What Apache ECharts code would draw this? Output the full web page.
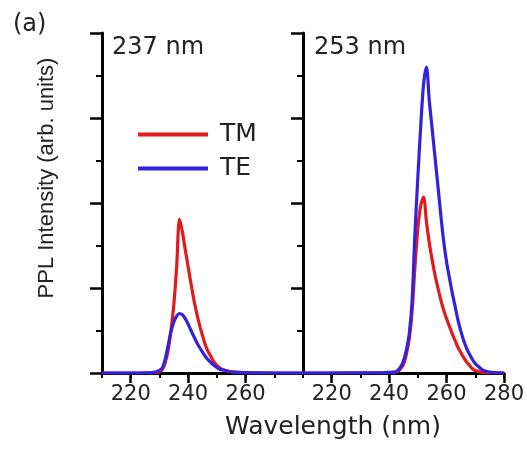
<!DOCTYPE html>
<html><head><meta charset="utf-8">
<script src="https://cdn.jsdelivr.net/npm/echarts@6/dist/echarts.min.js"></script>
<style>html,body{margin:0;padding:0;background:#fff}#c{width:527px;height:449px}</style>
</head><body><div id="c"></div>
<script>
// ---- data ----
const leftWl  = [210,220,226,228,229,230,231,232,233,234,235,236,237,238,239,240,241,242,243,244,245,246,247,248,249,250,251,252,254,256,260,270,280];
const leftTM  = [0,0,0,0,0.005,0.015,0.04,0.12,0.26,0.5,0.8,1.25,1.81,1.66,1.45,1.25,1.05,0.86,0.7,0.56,0.44,0.33,0.25,0.19,0.13,0.09,0.06,0.04,0.02,0.01,0,0,0];
const leftTE  = [0,0,0.003,0.008,0.015,0.03,0.06,0.16,0.32,0.48,0.6,0.67,0.70,0.685,0.64,0.575,0.5,0.43,0.36,0.3,0.245,0.195,0.155,0.12,0.09,0.065,0.045,0.035,0.02,0.01,0.004,0,0];
const rightWl = [210,220,230,238,240,242,243,244,245,246,247,248,249,250,251,252,253,254,255,256,257,258,259,260,261,262,263,264,265,266,267,268,269,270,271,272,273,275,278,280];
const rightTM = [0,0,0,0,0.003,0.01,0.02,0.05,0.1,0.22,0.4,0.72,1.25,1.7,1.97,2.07,1.78,1.53,1.33,1.15,1.0,0.86,0.74,0.64,0.55,0.46,0.38,0.3,0.24,0.18,0.13,0.09,0.05,0.03,0.02,0.01,0.005,0,0,0];
const rightTE = [0,0,0.002,0.005,0.008,0.01,0.03,0.07,0.14,0.27,0.46,0.85,1.65,2.3,2.9,3.4,3.6,3.2,2.87,2.53,2.2,1.86,1.55,1.31,1.12,0.94,0.78,0.62,0.49,0.38,0.29,0.22,0.16,0.11,0.08,0.05,0.03,0.01,0.003,0];
const seriesNames = ['TM','TE'];
const panelTitles = ['237 nm','253 nm'];
const leftTickLabels  = [220,240,260];
const rightTickLabels = [220,240,260,280];
const xName = 'Wavelength (nm)';
const yName = 'PPL Intensity (arb. units)';
const panelLetter = '(a)';

// ---- chart ----
const chart = echarts.init(document.getElementById('c'), null, {renderer:'canvas'});
const pair = (xs, ys) => xs.map((x,i)=>[x, ys[i]]);
const FONT = 'DejaVu Sans';
const TXT = '#222';
const RED = '#e31a1c', BLUE = '#3322dd';

function xMinor(gridIndex, labels){
  return {type:'value', gridIndex, min:210, max:280, interval:10, position:'bottom',
    axisLine:{show:true, onZero:false, lineStyle:{color:'#000', width:3}},
    axisTick:{show:true, length:5, lineStyle:{color:'#000', width:2}},
    axisLabel:{show:true, color:TXT, fontFamily:FONT, fontSize:21, margin:11,
      formatter: v => labels.indexOf(v) >= 0 ? String(v) : ''},
    splitLine:{show:false}};
}
function xMajor(gridIndex, ticks){
  return {type:'value', gridIndex, min:210, max:280, position:'bottom',
    axisLine:{show:false},
    axisTick:{show:true, length:10, customValues:ticks, lineStyle:{color:'#000', width:2.5}},
    axisLabel:{show:false}, splitLine:{show:false}};
}
function yAx(gridIndex){
  return {type:'value', gridIndex, min:0, max:4, interval:1,
    axisLine:{show:true, lineStyle:{color:'#000', width:3}},
    axisTick:{show:true, length:12, lineStyle:{color:'#000', width:2.5}},
    minorTick:{show:true, splitNumber:2, length:6, lineStyle:{color:'#000', width:2}},
    axisLabel:{show:false}, splitLine:{show:false}, minorSplitLine:{show:false}};
}
function line(name, color, xi, yi, data){
  return {type:'line', name, xAxisIndex:xi, yAxisIndex:yi, data, symbol:'none',
    smooth:0.3, lineStyle:{color, width:3.2}, itemStyle:{color}, z:name==='TE'?3:2};
}

chart.setOption({
  animation:false,
  backgroundColor:'#fff',
  grid:[
    {left:102, top:33, width:201, height:340},
    {left:303, top:33, width:204, height:340}
  ],
  xAxis:[ xMinor(0,leftTickLabels), xMajor(0,leftTickLabels),
          xMinor(1,rightTickLabels), xMajor(1,rightTickLabels) ],
  yAxis:[ yAx(0), yAx(1) ],
  legend:{data:seriesNames, orient:'vertical', left:138, top:122, padding:0, icon:'rect',
    itemWidth:70, itemHeight:4, itemGap:9,
    textStyle:{fontFamily:FONT, fontSize:25, color:TXT, padding:[0,0,0,7]}},
  series:[
    line(seriesNames[0], RED, 0, 0, pair(leftWl, leftTM)),
    line(seriesNames[1], BLUE, 0, 0, pair(leftWl, leftTE)),
    line(seriesNames[0], RED, 2, 1, pair(rightWl, rightTM)),
    line(seriesNames[1], BLUE, 2, 1, pair(rightWl, rightTE))
  ],
  graphic:[
    {type:'text', left:13, top:13, style:{text:panelLetter, font:'24px "DejaVu Sans"', fill:TXT}},
    {type:'text', left:112, top:36, style:{text:panelTitles[0], font:'24px "DejaVu Sans"', fill:TXT}},
    {type:'text', left:314, top:36, style:{text:panelTitles[1], font:'24px "DejaVu Sans"', fill:TXT}},
    {type:'text', x:333, y:427, style:{text:xName, font:'25px "DejaVu Sans"', fill:TXT, align:'center', verticalAlign:'middle'}},
    {type:'text', x:47, y:178, rotation:Math.PI/2, style:{text:yName, font:'22px "Liberation Sans"', fill:TXT, align:'center', verticalAlign:'middle'}}
  ]
});
</script></body></html>
